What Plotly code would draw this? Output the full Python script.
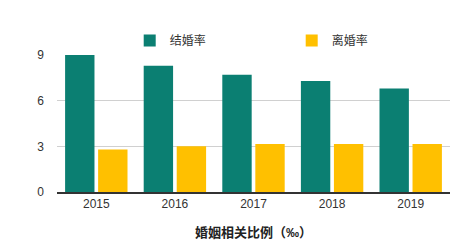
import plotly.graph_objects as go

years = ["2015", "2016", "2017", "2018", "2019"]
marriage = [9.0, 8.3, 7.7, 7.3, 6.8]
divorce = [2.8, 3.0, 3.15, 3.15, 3.15]
series_names = ["结婚率", "离婚率"]
yticks = [0, 3, 6, 9]

font = "Liberation Sans, Noto Sans CJK SC, sans-serif"

fig = go.Figure()
fig.add_bar(x=years, y=marriage, name=series_names[0], marker=dict(color="#0b7f72", line=dict(width=0)))
fig.add_bar(x=years, y=divorce, name=series_names[1], marker=dict(color="#ffc000", line=dict(width=0)))

fig.update_layout(
    width=467, height=249,
    margin=dict(l=57, r=17, t=55, b=57),
    paper_bgcolor="white", plot_bgcolor="white",
    barmode="group", bargap=0.16, bargroupgap=0.11,
    font=dict(family=font, size=12, color="#333333"),
    legend=dict(orientation="h", x=0.185, xanchor="left", y=1.0, yanchor="bottom",
                font=dict(size=12, color="#333333"), itemwidth=30, traceorder="normal",
                entrywidth=117, entrywidthmode="pixels"),
    xaxis=dict(showline=True, linecolor="#333333", linewidth=1.5, ticks="",
               tickfont=dict(size=12, color="#333333"),
               title=dict(text="<b>婚姻相关比例（‰）</b>", font=dict(size=13, color="#222222"), standoff=18)),
    yaxis=dict(range=[0, 9], tickvals=yticks, showgrid=True, gridcolor="#d0d0d0", gridwidth=1,
               zeroline=False, showline=False, ticks="", ticklabelstandoff=12,
               tickfont=dict(size=12, color="#333333")),
)

fig.write_html("out.html")
